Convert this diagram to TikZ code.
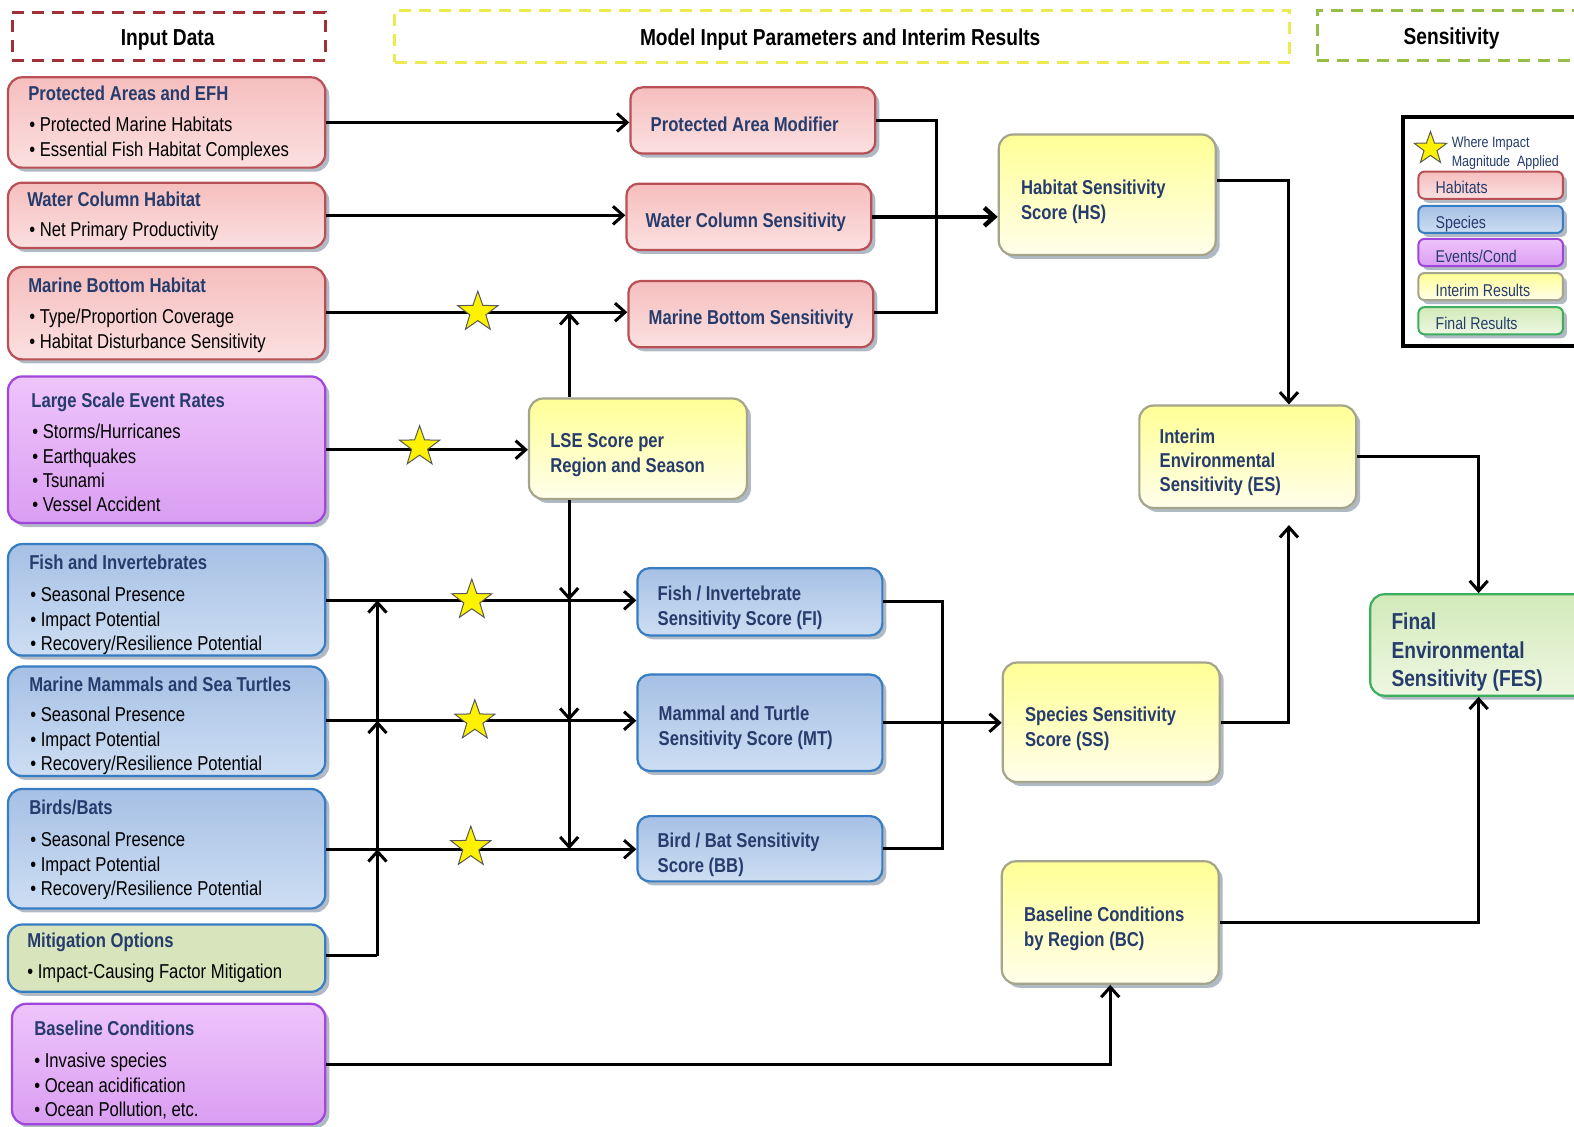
\documentclass[tikz,border=0pt]{standalone}
\usepackage{fontspec}
\setmainfont{Liberation Sans}[FakeStretch=0.83]
\usetikzlibrary{arrows.meta,shapes.geometric,shadows}

\definecolor{ttlc}{RGB}{38,60,108}
\definecolor{redD}{RGB}{185,80,85}
\definecolor{redT}{RGB}{246,190,190}
\definecolor{redB}{RGB}{251,224,224}
\definecolor{bluD}{RGB}{55,125,195}
\definecolor{bluT}{RGB}{166,192,228}
\definecolor{bluB}{RGB}{205,222,243}
\definecolor{purD}{RGB}{160,70,220}
\definecolor{purT}{RGB}{238,196,250}
\definecolor{purB}{RGB}{218,158,242}
\definecolor{yelD}{RGB}{165,165,140}
\definecolor{yelT}{RGB}{255,255,150}
\definecolor{yelB}{RGB}{255,254,234}
\definecolor{grnD}{RGB}{60,175,95}
\definecolor{grnT}{RGB}{210,234,185}
\definecolor{grnB}{RGB}{238,247,226}
\definecolor{mitF}{RGB}{216,228,188}
\definecolor{shd}{RGB}{125,140,158}
\definecolor{hdRed}{RGB}{160,50,55}
\definecolor{hdYel}{RGB}{235,235,80}
\definecolor{hdGrn}{RGB}{150,190,70}

\tikzset{
  box/.style={rounded corners=14pt, line width=2.2pt, inner sep=0pt,
    drop shadow={shadow xshift=4pt, shadow yshift=-4pt, fill=shd, opacity=0.6}},
  redbox/.style={box, draw=redD, top color=redT, bottom color=redB},
  blubox/.style={box, draw=bluD, top color=bluT, bottom color=bluB},
  purbox/.style={box, draw=purD, top color=purT, bottom color=purB},
  yelbox/.style={box, draw=yelD, top color=yelT, bottom color=yelB},
  grnbox/.style={box, draw=grnD, top color=grnT, bottom color=grnB},
  mitbox/.style={box, draw=bluD, fill=mitF},
  lgbox/.style={box, rounded corners=6pt, line width=2pt},
  hdrbox/.style={line width=3pt, dash pattern=on 12pt off 8pt, inner sep=0pt},
  ttl/.style={font=\fontsize{20}{24}\selectfont\bfseries, text=ttlc, anchor=base west, inner sep=0pt, yshift=-7pt},
  bul/.style={font=\fontsize{20}{24}\selectfont, text=black, anchor=base west, inner sep=0pt, yshift=-7pt},
  hdt/.style={font=\fontsize{23}{27}\selectfont\bfseries, text=black, anchor=base, inner sep=0pt, yshift=-8pt},
  fest/.style={font=\fontsize{23}{27}\selectfont\bfseries, text=ttlc, anchor=base west, inner sep=0pt, yshift=-8pt},
  legt/.style={font=\fontsize{17}{20}\selectfont, text=ttlc, anchor=base west, inner sep=0pt, yshift=-6pt},
  legs/.style={font=\fontsize{15}{18}\selectfont, text=ttlc, anchor=base west, inner sep=0pt, yshift=-5pt},
  ln/.style={line width=3pt},
  arr/.style={line width=3pt, -{Straight Barb[length=10pt,width=18pt]}},
  arrT/.style={line width=4.5pt, -{Straight Barb[length=10pt,width=18pt]}},
  starS/.style={star, star points=5, star point ratio=2.5, minimum size=42pt, inner sep=0pt,
    fill=yellow, draw=black!65, line width=1pt},
}
\newcommand\bu{\textbullet\ }

\begin{document}
\begin{tikzpicture}[x=1pt,y=-1pt]
\useasboundingbox (0,0) rectangle (1568,1122);
\clip (0,0) rectangle (1568,1122);
\fill[white] (0,0) rectangle (1568,1122);

% headers
\node[hdrbox, draw=hdRed, minimum width=312pt, minimum height=48pt] (hIn) at (168,36) {};
\node[hdrbox, draw=hdYel, minimum width=892pt, minimum height=52pt] (hMod) at (839,36) {};
\node[hdrbox, draw=hdGrn, minimum width=288pt, minimum height=50pt] (hSen) at (1456,35) {};
\node[hdt] (tIn) at (167,37) {Input Data};
\node[hdt] (tMod) at (837,37) {Model Input Parameters and Interim Results};
\node[hdt] (tSen) at (1446,36) {Sensitivity};

% left input boxes
\node[redbox, minimum width=316pt, minimum height=90pt] (pa) at (166,122) {};
\node[redbox, minimum width=316pt, minimum height=65pt] (wc) at (166,214.5) {};
\node[redbox, minimum width=316pt, minimum height=92pt] (mb) at (166,312) {};
\node[purbox, minimum width=316pt, minimum height=146pt] (ls) at (166,448) {};
\node[blubox, minimum width=316pt, minimum height=111pt] (fish) at (166,597.5) {};
\node[blubox, minimum width=316pt, minimum height=109pt] (mam) at (166,718.5) {};
\node[blubox, minimum width=316pt, minimum height=119pt] (bird) at (166,845.5) {};
\node[mitbox, minimum width=316pt, minimum height=67pt] (mit) at (166,954.5) {};
\node[purbox, minimum width=312pt, minimum height=120pt] (base) at (168,1060) {};

% middle boxes
\node[redbox, rounded corners=12pt, minimum width=244pt, minimum height=66pt] (pam) at (750,120) {};
\node[redbox, rounded corners=12pt, minimum width=244pt, minimum height=66pt] (wcs) at (746,216) {};
\node[redbox, rounded corners=12pt, minimum width=244pt, minimum height=66pt] (mbs) at (748,313) {};
\node[yelbox, minimum width=217pt, minimum height=100pt] (lse) at (635.5,447) {};
\node[blubox, rounded corners=12pt, minimum width=244pt, minimum height=67pt] (fi) at (757,599.5) {};
\node[blubox, rounded corners=12pt, minimum width=244pt, minimum height=96pt] (mt) at (757,720) {};
\node[blubox, rounded corners=12pt, minimum width=244pt, minimum height=65pt] (bb) at (757,845.5) {};

% right boxes
\node[yelbox, minimum width=216pt, minimum height=120pt] (hs) at (1103,194) {};
\node[yelbox, minimum width=216pt, minimum height=102pt] (es) at (1243,455) {};
\node[yelbox, minimum width=216pt, minimum height=119pt] (ss) at (1107,719.5) {};
\node[yelbox, minimum width=216pt, minimum height=122pt] (bc) at (1106,919) {};
\node[grnbox, minimum width=235pt, minimum height=101pt] (fes) at (1482.5,642.5) {};

% legend
\node[draw=black, fill=white, line width=4pt, minimum width=202pt, minimum height=228pt, inner sep=0pt] (leg) at (1499,231) {};
\node[starS, minimum size=34pt] (lgStar) at (1425,148) {};
\node[legs] (lgW1) at (1446,142) {Where Impact};
\node[legs] (lgW2) at (1446,161) {Magnitude\ \ Applied};
\node[lgbox, draw=redD, top color=redT, bottom color=redB, minimum width=144pt, minimum height=27pt] (lgH) at (1485,184.5) {};
\node[lgbox, draw=bluD, top color=bluT, bottom color=bluB, minimum width=144pt, minimum height=27pt] (lgS) at (1485,218.5) {};
\node[lgbox, draw=purD, top color=purT, bottom color=purB, minimum width=144pt, minimum height=27pt] (lgE) at (1485,251.5) {};
\node[lgbox, draw=yelD, top color=yelT, bottom color=yelB, minimum width=144pt, minimum height=27pt] (lgI) at (1485,285.5) {};
\node[lgbox, draw=grnD, top color=grnT, bottom color=grnB, minimum width=144pt, minimum height=27pt] (lgF) at (1485,319.5) {};
\node[legt] (lgHt) at (1430,187) {Habitats};
\node[legt] (lgSt) at (1430,222) {Species};
\node[legt] (lgEt) at (1430,255) {Events/Cond};
\node[legt] (lgIt) at (1430,289) {Interim Results};
\node[legt] (lgFt) at (1430,322) {Final Results};

% left texts
\node[ttl] (pa0) at (28,93) {Protected Areas and EFH};
\node[bul] (pa1) at (29,124) {\bu Protected Marine Habitats};
\node[bul] (pa2) at (29,149) {\bu Essential Fish Habitat Complexes};
\node[ttl] (wc0) at (27,199) {Water Column Habitat};
\node[bul] (wc1) at (29,229) {\bu Net Primary Productivity};
\node[ttl] (mb0) at (28,284) {Marine Bottom Habitat};
\node[bul] (mb1) at (29,315) {\bu Type/Proportion Coverage};
\node[bul] (mb2) at (29,340) {\bu Habitat Disturbance Sensitivity};
\node[ttl] (ls0) at (31,399) {Large Scale Event Rates};
\node[bul] (ls1) at (32,430) {\bu Storms/Hurricanes};
\node[bul] (ls2) at (32,455) {\bu Earthquakes};
\node[bul] (ls3) at (32,479) {\bu Tsunami};
\node[bul] (ls4) at (32,503) {\bu Vessel Accident};
\node[ttl] (fi0) at (29,560) {Fish and Invertebrates};
\node[bul] (fi1) at (30,592) {\bu Seasonal Presence};
\node[bul] (fi2) at (30,617) {\bu Impact Potential};
\node[bul] (fi3) at (30,641) {\bu Recovery/Resilience Potential};
\node[ttl] (mm0) at (29,682) {Marine Mammals and Sea Turtles};
\node[bul] (mm1) at (30,712) {\bu Seasonal Presence};
\node[bul] (mm2) at (30,737) {\bu Impact Potential};
\node[bul] (mm3) at (30,761) {\bu Recovery/Resilience Potential};
\node[ttl] (bi0) at (29,804) {Birds/Bats};
\node[bul] (bi1) at (30,836) {\bu Seasonal Presence};
\node[bul] (bi2) at (30,861) {\bu Impact Potential};
\node[bul] (bi3) at (30,885) {\bu Recovery/Resilience Potential};
\node[ttl] (mi0) at (27,937) {Mitigation Options};
\node[bul] (mi1) at (27,968) {\bu Impact-Causing Factor Mitigation};
\node[ttl] (ba0) at (34,1025) {Baseline Conditions};
\node[bul] (ba1) at (34,1056) {\bu Invasive species};
\node[bul] (ba2) at (34,1081) {\bu Ocean acidification};
\node[bul] (ba3) at (34,1105) {\bu Ocean Pollution, etc.};

% middle texts
\node[ttl] (pamt) at (648,124) {Protected Area Modifier};
\node[ttl] (wcst) at (643,220) {Water Column Sensitivity};
\node[ttl] (mbst) at (646,316) {Marine Bottom Sensitivity};
\node[ttl] (lse1) at (548,439) {LSE Score per};
\node[ttl] (lse2) at (548,464) {Region and Season};
\node[ttl] (fit1) at (655,591) {Fish / Invertebrate};
\node[ttl] (fit2) at (655,616) {Sensitivity Score (FI)};
\node[ttl] (mtt1) at (656,711) {Mammal and Turtle};
\node[ttl] (mtt2) at (656,736) {Sensitivity Score (MT)};
\node[ttl] (bbt1) at (655,837) {Bird / Bat Sensitivity};
\node[ttl] (bbt2) at (655,862) {Score (BB)};

% right texts
\node[ttl] (hst1) at (1017,187) {Habitat Sensitivity};
\node[ttl] (hst2) at (1017,212) {Score (HS)};
\node[ttl] (est1) at (1155,435) {Interim};
\node[ttl] (est2) at (1155,459) {Environmental};
\node[ttl] (est3) at (1155,483) {Sensitivity (ES)};
\node[ttl] (sst1) at (1021,712) {Species Sensitivity};
\node[ttl] (sst2) at (1021,737) {Score (SS)};
\node[ttl] (bct1) at (1020,911) {Baseline Conditions};
\node[ttl] (bct2) at (1020,936) {by Region (BC)};
\node[fest] (fes1) at (1386,619) {Final};
\node[fest] (fes2) at (1386,648) {Environmental};
\node[fest] (fes3) at (1386,676) {Sensitivity (FES)};

% junction coordinates
\coordinate (jA) at (567,311);
\coordinate (jF) at (567,598);
\coordinate (jM) at (567,718);
\coordinate (jB) at (567,846);
\coordinate (mF) at (376,598);
\coordinate (mM) at (376,718);
\coordinate (mB) at (376,846);
\coordinate (mS) at (376,952);
\coordinate (hX) at (933,0);
\coordinate (sX) at (939,0);
\coordinate (eX) at (1284,0);
\coordinate (fX) at (1473,0);

% connectors
\draw[arr] (pa.east) -- (pam.west |- pa.east);
\draw[arr] (wc.east) -- (wcs.west |- wc.east);
\draw[arr] (mb.east |- jA) -- (mbs.west |- jA);
\draw[arr] (lse.north -| jA) -- (jA);
\draw[arr] (ls.east) -- (lse.west |- ls.east);
\draw[arr] (lse.south -| jF) -- (jF);
\draw[arr] (jF) -- (jM);
\draw[arr] (jM) -- (jB);
\draw[arr] (fish.east |- jF) -- (fi.west |- jF);
\draw[arr] (mam.east |- jM) -- (mt.west |- jM);
\draw[arr] (bird.east |- jB) -- (bb.west |- jB);
\draw[ln] (mit.east |- mS) -- (mS);
\draw[arr] (mS) -- (mB);
\draw[arr] (mB) -- (mM);
\draw[arr] (mM) -- (mF);
\draw[ln] (pam.east) -| (hX |- jA) -- (mbs.east |- jA);
\draw[arrT] (wcs.east) -- (hs.west |- wcs.east);
\draw[arr] ([yshift=14pt]hs.east) -| (es.north -| eX);
\draw[arr, shorten >=16pt] (ss.east) -| (es.south -| eX);
\draw[arr] (es.east) -| (fes.north -| fX);
\draw[arr] (bc.east) -| (fes.south -| fX);
\draw[arr] (base.east) -| (bc.south);
\draw[ln] (fi.east) -| (sX |- bb.east) -- (bb.east);
\draw[arr] (mt.east) -- (ss.west |- mt.east);

% stars
\node[starS] (st1) at (476,311) {};
\node[starS] (st2) at (418,445) {};
\node[starS] (st3) at (470,598) {};
\node[starS] (st4) at (473,718) {};
\node[starS] (st5) at (469,844) {};
\end{tikzpicture}
\end{document}
